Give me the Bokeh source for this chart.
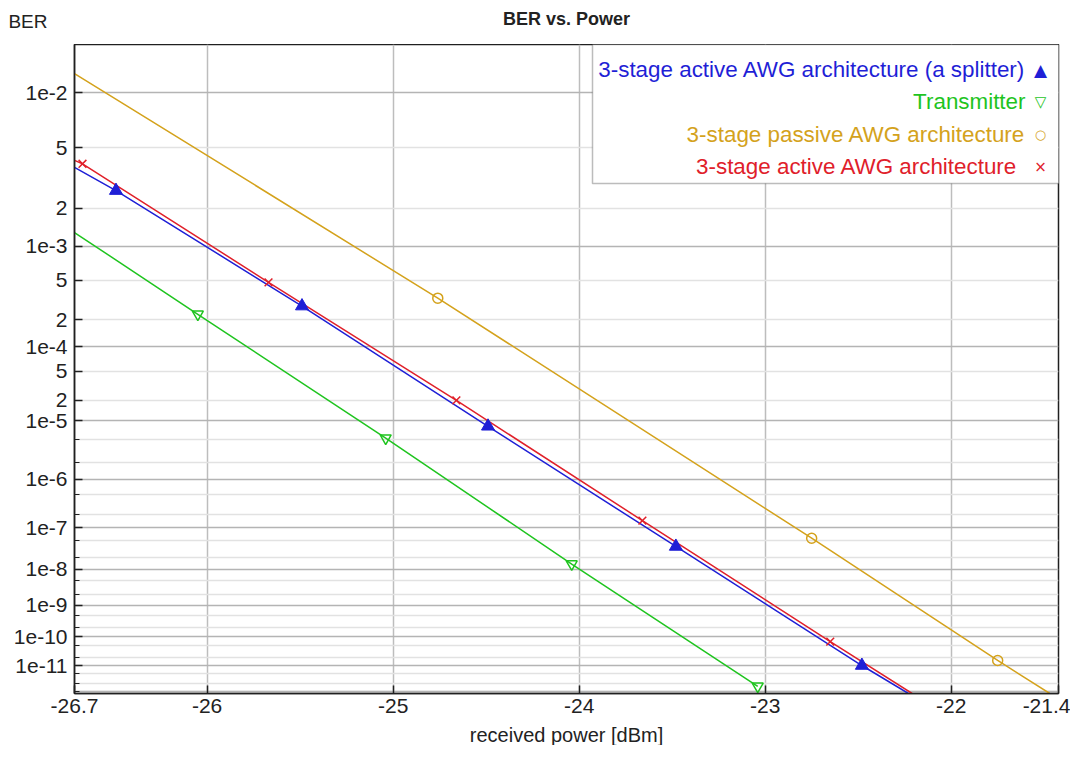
import math
from bokeh.plotting import figure
from bokeh.layouts import column
from bokeh.models import Range1d, FixedTicker, Label, BoxAnnotation, CustomJSTickFormatter
from bokeh.embed import file_html
from bokeh.resources import INLINE

# ---------------- data ----------------
title_text = "BER vs. Power"
y_title = "BER"
x_title = "received power [dBm]"

x_min, x_max = -26.713, -21.423
ber_top, ber_bottom = 0.0167, 8.2e-13

x_tick_vals = [-26.713, -26, -25, -24, -23, -22, -21.423]
x_tick_labels = ["-26.7", "-26", "-25", "-24", "-23", "-22", "-21.4"]

y_major_vals = [1e-2, 5e-3, 2e-3, 1e-3, 5e-4, 2e-4, 1e-4, 5e-5, 2e-5, 1e-5,
                1e-6, 1e-7, 1e-8, 1e-9, 1e-10, 1e-11]
y_major_labels = ["1e-2", "5", "2", "1e-3", "5", "2", "1e-4", "5", "2", "1e-5",
                  "1e-6", "1e-7", "1e-8", "1e-9", "1e-10", "1e-11"]
y_decades = [1e-2, 1e-3, 1e-4, 1e-5, 1e-6, 1e-7, 1e-8, 1e-9, 1e-10, 1e-11, 1e-12]
y_minor_vals = [5e-3, 2e-3, 5e-4, 2e-4, 5e-5, 2e-5, 5e-6, 2e-6, 5e-7, 2e-7,
                5e-8, 2e-8, 5e-9, 2e-9, 5e-10, 2e-10, 5e-11, 2e-11, 5e-12, 2e-12, 1e-12]

series_names = ["3-stage active AWG architecture (a splitter)", "Transmitter",
                "3-stage passive AWG architecture", "3-stage active AWG architecture"]

blue_x = [-26.49, -25.49, -24.49, -23.48, -22.48]
blue_ber = [2.66e-3, 2.8e-4, 8.2e-6, 3.7e-8, 1.0e-11]
blue_line_x = [-26.713, -26.49, -25.49, -24.49, -23.48, -22.48, -22.23]
blue_line_ber = [3.8e-3, 2.66e-3, 2.8e-4, 8.2e-6, 3.7e-8, 1.0e-11, 8.2e-13]

green_x = [-26.05, -25.04, -24.04, -23.04]
green_ber = [2.3e-4, 5.3e-6, 1.36e-8, 1.6e-12]
green_line_x = [-26.713, -26.05, -25.04, -24.04, -23.04]
green_line_ber = [1.3e-3, 2.3e-4, 5.3e-6, 1.36e-8, 1.6e-12]

gold_x = [-24.76, -22.75, -21.75]
gold_ber = [3.37e-4, 5.8e-8, 1.53e-11]
gold_line_x = [-26.713, -24.76, -22.75, -21.75, -21.47]
gold_line_ber = [1.24e-2, 3.37e-4, 5.8e-8, 1.53e-11, 8.2e-13]

red_x = [-26.67, -25.67, -24.66, -23.66, -22.65]
red_ber = [4.0e-3, 4.8e-4, 2.0e-5, 1.45e-7, 7.0e-11]
red_line_x = [-26.713, -26.67, -25.67, -24.66, -23.66, -22.65, -22.21]
red_line_ber = [4.2e-3, 4.0e-3, 4.8e-4, 2.0e-5, 1.45e-7, 7.0e-11, 8.2e-13]

# ---------------- BER (Q-factor) scale ----------------
def qfactor(ber):
    lo, hi = 0.0, 40.0
    for _ in range(200):
        mid = 0.5 * (lo + hi)
        if 0.5 * math.erfc(mid / math.sqrt(2.0)) > ber:
            lo = mid
        else:
            hi = mid
    return 0.5 * (lo + hi)

def ty(ber):
    return -math.log10(qfactor(ber))

def tys(bers):
    return [ty(b) for b in bers]

BLUE = "#1f1fd6"
GREEN = "#1fc41f"
GOLD = "#d4a21c"
RED = "#e0202a"
TXT = "#222222"
FONT = "Liberation Sans"
W = 1070
FRAME_L, FRAME_R = 74, 1058
TOP_H, MAIN_H, BOT_H = 44, 679, 22

JS_FMT = """
let best = 0, d = 1e9;
for (let i = 0; i < vals.length; i++) { const e = Math.abs(vals[i] - tick); if (e < d) { d = e; best = i; } }
return labs[best];
"""


def strip(height, with_left_axis=False):
    f = figure(width=W, height=height, output_backend="svg", toolbar_location=None,
               x_range=Range1d(FRAME_L, FRAME_R), y_range=Range1d(height, 0),
               x_axis_location=None,
               y_axis_location="left" if with_left_axis else None,
               min_border=0, min_border_left=FRAME_L, min_border_right=W - FRAME_R)
    f.grid.visible = False
    f.outline_line_color = None
    f.background_fill_color = "white"
    f.border_fill_color = "white"
    return f

# top strip: "BER" (as a tick label of an invisible left axis) and the title
top = strip(TOP_H, with_left_axis=True)
top.yaxis.ticker = FixedTicker(ticks=[21])
top.yaxis.formatter = CustomJSTickFormatter(args=dict(vals=[21], labs=[y_title]), code=JS_FMT)
top.yaxis.axis_line_color = None
top.yaxis.major_tick_line_color = None
top.yaxis.minor_tick_line_color = None
top.yaxis.major_label_standoff = 21
top.yaxis.major_label_text_font = FONT
top.yaxis.major_label_text_font_size = "19px"
top.yaxis.major_label_text_color = TXT
top.add_layout(Label(x=566, y=18, text=title_text, text_font=FONT, text_font_size="18px",
                     text_font_style="bold", text_color=TXT,
                     text_align="center", text_baseline="middle"))

# bottom strip: x axis title
bot = strip(BOT_H)
bot.add_layout(Label(x=566, y=11, text=x_title, text_font=FONT, text_font_size="20px",
                     text_color=TXT, text_align="center", text_baseline="middle"))

# main plot
p = figure(width=W, height=MAIN_H, output_backend="svg", toolbar_location=None,
           x_range=Range1d(x_min, x_max),
           y_range=Range1d(ty(ber_bottom), ty(ber_top)),
           min_border_left=FRAME_L, min_border_right=W - FRAME_R,
           min_border_top=0, min_border_bottom=30)

p.outline_line_color = "#202020"
p.outline_line_width = 1.5
p.background_fill_color = "white"
p.border_fill_color = "white"

# x axis
p.xaxis.ticker = FixedTicker(ticks=x_tick_vals)
p.xaxis.formatter = CustomJSTickFormatter(args=dict(vals=x_tick_vals, labs=x_tick_labels), code=JS_FMT)
p.xaxis.major_label_text_font = FONT
p.xaxis.major_label_text_font_size = "21px"
p.xaxis.major_label_text_color = TXT
p.xaxis.major_label_standoff = 5
p.xaxis.major_tick_in = 8
p.xaxis.major_tick_out = 0
p.xaxis.minor_tick_line_color = None

# y axis
ymaj_t = [round(v, 9) for v in tys(y_major_vals)]
p.yaxis.ticker = FixedTicker(ticks=ymaj_t, minor_ticks=[round(v, 9) for v in tys(y_minor_vals)])
p.yaxis.formatter = CustomJSTickFormatter(args=dict(vals=ymaj_t, labs=y_major_labels), code=JS_FMT)
p.yaxis.major_label_text_font = FONT
p.yaxis.major_label_text_font_size = "21px"
p.yaxis.major_label_text_color = TXT
p.yaxis.major_label_standoff = 7
p.yaxis.major_tick_in = 8
p.yaxis.major_tick_out = 0
p.yaxis.minor_tick_in = 5
p.yaxis.minor_tick_out = 0
p.yaxis.minor_tick_line_color = "#202020"

for ax in (p.xaxis[0], p.yaxis[0]):
    ax.axis_line_color = "#202020"
    ax.axis_line_width = 1.5
    ax.major_tick_line_color = "#202020"
    ax.major_tick_line_width = 1.5

# grids
p.xgrid.grid_line_color = "#bdbdbd"
p.xgrid.grid_line_width = 1.5
p.ygrid.ticker = FixedTicker(ticks=tys(y_decades), minor_ticks=tys(y_minor_vals))
p.ygrid.grid_line_color = "#b4b4b4"
p.ygrid.grid_line_width = 1.5
p.ygrid.minor_grid_line_color = "#e2e2e2"
p.ygrid.minor_grid_line_width = 1.5

# series
p.line(gold_line_x, tys(gold_line_ber), line_color=GOLD, line_width=1.5)
p.line(green_line_x, tys(green_line_ber), line_color=GREEN, line_width=1.5)
p.line(blue_line_x, tys(blue_line_ber), line_color=BLUE, line_width=1.5)
p.line(red_line_x, tys(red_line_ber), line_color=RED, line_width=1.5)

p.scatter(gold_x, tys(gold_ber), marker="circle", size=10, line_color=GOLD,
          fill_color=None, line_width=1.5)
p.scatter(green_x, tys(green_ber), marker="inverted_triangle", size=11, line_color=GREEN,
          fill_color=None, line_width=1.5)
p.scatter(blue_x, tys(blue_ber), marker="triangle", size=13, line_color=BLUE,
          fill_color=BLUE, line_width=1)
p.scatter(red_x, tys(red_ber), marker="x", size=11, line_color=RED, line_width=1.5)

# legend (custom: text right aligned, marker on the right), canvas units of the main plot
p.add_layout(BoxAnnotation(left=592, right=1059, top=0, bottom=139,
                           left_units="canvas", right_units="canvas",
                           top_units="canvas", bottom_units="canvas",
                           fill_color="white", fill_alpha=1.0,
                           line_color="#202020", line_width=1.5, level="overlay"))
leg_colors = [BLUE, GREEN, GOLD, RED]
leg_syms = ["\u25B2", "\u25BD", "\u25CB", "\u00D7"]
leg_sym_sizes = ["17px", "15px", "13px", "15px"]
row_y = [25, 57, 90, 122]
row_x = [1025, 1025, 1025, 1017]
for name, col, sym, ssz, yy, xx in zip(series_names, leg_colors, leg_syms, leg_sym_sizes, row_y, row_x):
    p.add_layout(Label(x=xx, y=yy, x_units="canvas", y_units="canvas", text=name,
                       text_font=FONT, text_font_size="22.4px", text_color=col,
                       text_align="right", text_baseline="middle", level="overlay"))
    p.add_layout(Label(x=1040, y=yy, x_units="canvas", y_units="canvas", text=sym,
                       text_font="DejaVu Sans", text_font_size=ssz, text_color=col,
                       text_align="center", text_baseline="middle", level="overlay"))

layout = column(top, p, bot, spacing=0)
open("out.html", "w").write(file_html(layout, INLINE))
